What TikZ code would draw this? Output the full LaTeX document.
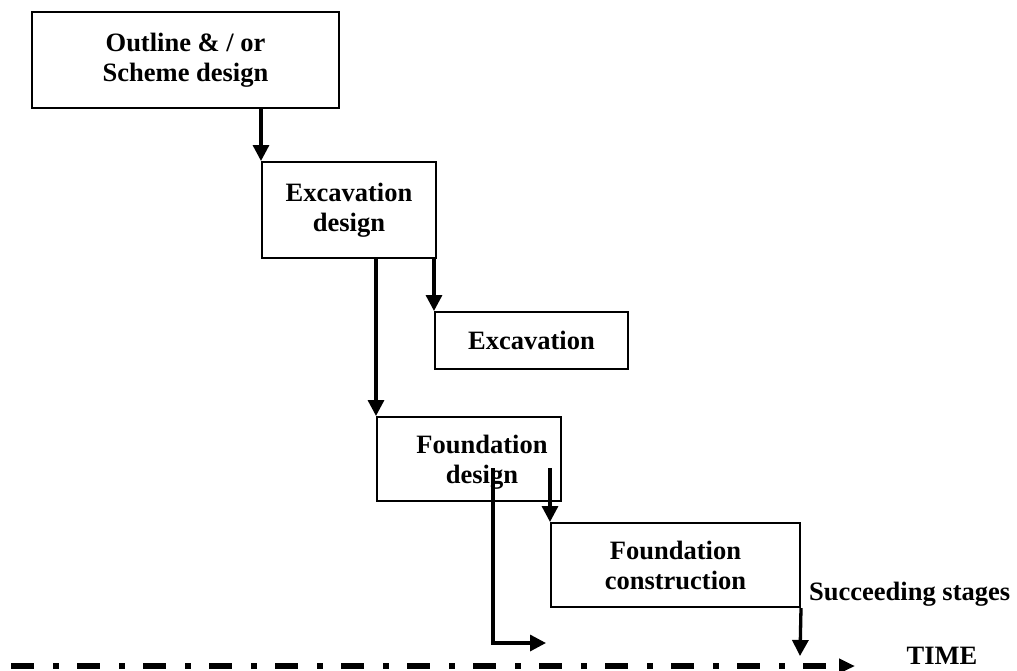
\documentclass[tikz,border=0pt]{standalone}
\usepackage{fontspec}
\setmainfont{Liberation Serif}
\usetikzlibrary{arrows.meta}
\begin{document}
\begin{tikzpicture}[x=1pt,y=-1pt,
  lbl/.style={font=\bfseries\fontsize{26.5}{30}\selectfont, align=center, inner sep=0pt},
  stage/.style={draw, line width=2pt, inner sep=0pt, lbl},
  flow/.style={line width=3.3pt, -{Triangle[length=16pt,width=16pt]}},
  timeaxis/.style={line width=6.5pt, dash pattern=on 23pt off 19pt on 6pt off 18pt,
    -{Triangle[length=16pt,width=14pt]}}]
\useasboundingbox (0,0) rectangle (1017,670);

% stages of the process
\node[stage, minimum width=307pt, minimum height=96pt] (outline) at (185.5,60) {Outline \& / or\\Scheme design};
\node[stage, minimum width=174pt, minimum height=96pt] (excdes) at (349,210) {Excavation\\design};
\node[stage, minimum width=193pt, minimum height=57pt] (exc) at (531.5,340.5) {Excavation};
\node[stage, minimum width=184pt, minimum height=84pt] (fnddes) at (469,459) {};
\node[lbl] (fnddestext) at (482,462) {Foundation\\design};
\node[stage, minimum width=249pt, minimum height=84pt] (fndcon) at (675.5,565) {Foundation\\construction};

% free labels
\node[lbl, anchor=west] (succ) at (809,594) {Succeeding stages};
\node[lbl] (time) at (942,656) {TIME};

% helper points for connectors
\coordinate (fcstart) at (551,468);
\coordinate (fbstart) at (493,468);
\coordinate (fbend) at (546,643);
\coordinate (sucend) at (800,656);
\coordinate (t0) at (11,666);
\coordinate (t1) at (855,666);

% connectors
\draw[flow] (excdes.north west |- outline.south) -- (excdes.north west);
\draw[flow] (exc.north west |- excdes.south) -- (exc.north west);
\draw[flow] (fnddes.north west |- excdes.south) -- (fnddes.north west);
\draw[flow] (fndcon.north west |- fcstart) -- (fndcon.north west);
\draw[flow] (fbstart) -- (fbstart |- fbend) -- (fbend);
\draw[flow] (fndcon.south east) -- (sucend);

% time axis
\draw[timeaxis] (t0) -- (t1);
\end{tikzpicture}
\end{document}
